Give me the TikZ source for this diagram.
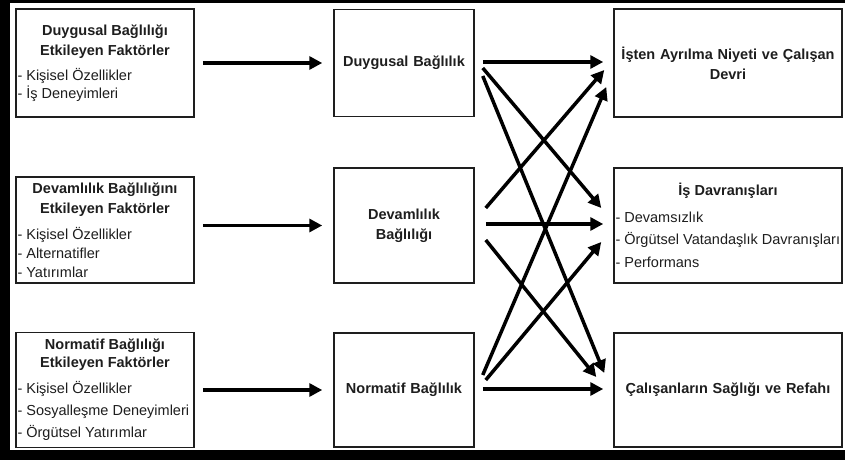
\documentclass[tikz,border=0pt]{standalone}
\usepackage{fontspec}
\setmainfont{Liberation Sans}
\usetikzlibrary{arrows.meta}
\definecolor{koyu}{HTML}{1E1E1E}
\newcommand{\baslik}[1]{\makebox[\linewidth]{\bfseries #1}}

\begin{document}
\begin{tikzpicture}[x=1pt, y=1pt, >={Triangle[length=13pt,width=13pt]},
    kutu/.style={draw=koyu, line width=1.5pt, text=koyu, inner sep=1.5pt,
        font=\fontsize{14.5}{20}\selectfont},
    faktor/.style={kutu, text width=175pt, align=flush left},
    baglilik/.style={kutu, text width=137pt, align=center,
        font=\fontsize{14.5}{20}\selectfont\bfseries},
    sonuc/.style={kutu, text width=225pt, align=center},
    ok/.style={->, line width=3.5pt}]
    % cerceve
    \fill[black] (0,0) rectangle (845,460);
    \fill[white] (10,10) rectangle (845,457);

    % faktorler
    \node[faktor, minimum height=108pt] (f1) at (105,397) {%
        \baslik{Duygusal Bağlılığı}\\
        \baslik{Etkileyen Faktörler}\\[5pt]
        - Kişisel Özellikler\\[-2pt]
        - İş Deneyimleri\\[6pt]};
    \node[faktor, minimum height=106pt] (f2) at (105,230) {%
        \baslik{Devamlılık Bağlılığını}\\
        \baslik{Etkileyen Faktörler}\\[6pt]
        - Kişisel Özellikler\\[-1pt]
        - Alternatifler\\[-1pt]
        - Yatırımlar\\[4pt]};
    \node[faktor, minimum height=115pt] (f3) at (105,70) {%
        \baslik{Normatif Bağlılığı}\\[-2pt]
        \baslik{Etkileyen Faktörler}\\[6pt]
        - Kişisel Özellikler\\[2pt]
        - Sosyalleşme Deneyimleri\\[2pt]
        - Örgütsel Yatırımlar};

    % baglilik turleri
    \node[baglilik, minimum height=107pt] (d1) at (404,397) {Duygusal Bağlılık};
    \node[baglilik, minimum height=115pt] (d2) at (404,234.5) {Devamlılık\\Bağlılığı};
    \node[baglilik, minimum height=114pt] (d3) at (404,70) {Normatif Bağlılık};

    % sonuclar
    \node[sonuc, font=\fontsize{14.5}{20}\selectfont\bfseries, minimum height=108pt]
        (s1) at (728,397) {İşten Ayrılma Niyeti ve Çalışan\\Devri};
    \node[sonuc, align=flush left, minimum height=115pt] (s2) at (728,234.5) {%
        \baslik{İş Davranışları}\\[7pt]
        - Devamsızlık\\[2pt]
        - Örgütsel Vatandaşlık Davranışları\\[3pt]
        - Performans};
    \node[sonuc, font=\fontsize{14.5}{20}\selectfont\bfseries, minimum height=114pt]
        (s3) at (728,70) {Çalışanların Sağlığı ve Refahı};

    % faktor -> baglilik
    \draw[ok] ([xshift=8pt]f1.east) -- ([xshift=-11pt]d1.west);
    \draw[ok] ([xshift=8pt,yshift=4.5pt]f2.east) -- ([xshift=-11pt]d2.west);
    \draw[ok] ([xshift=8pt]f3.east) -- ([xshift=-11pt]d3.west);

    % baglilik -> sonuc
    \draw[ok] ([xshift=8pt,yshift=1pt]d1.east) -- ([xshift=-10pt,yshift=1pt]s1.west);
    \draw[ok] ([xshift=8pt,yshift=-5pt]d1.east) -- ([xshift=-12pt,yshift=17.5pt]s2.west);
    \draw[ok] ([xshift=8pt,yshift=-13pt]d1.east) -- ([xshift=-9pt,yshift=17pt]s3.west);

    \draw[ok] ([xshift=11pt,yshift=17.5pt]d2.east) -- ([xshift=-9pt,yshift=-7pt]s1.west);
    \draw[ok] ([xshift=11pt,yshift=1.5pt]d2.east) -- ([xshift=-10pt,yshift=1.5pt]s2.west);
    \draw[ok] ([xshift=11pt,yshift=-14.5pt]d2.east) -- ([xshift=-17pt,yshift=13pt]s3.west);

    \draw[ok] ([xshift=8pt,yshift=15pt]d3.east) -- ([xshift=-7pt,yshift=-24pt]s1.west);
    \draw[ok] ([xshift=11pt,yshift=10pt]d3.east) -- ([xshift=-12pt,yshift=-16.5pt]s2.west);
    \draw[ok] ([xshift=8pt,yshift=1pt]d3.east) -- ([xshift=-10pt,yshift=1pt]s3.west);
\end{tikzpicture}
\end{document}
